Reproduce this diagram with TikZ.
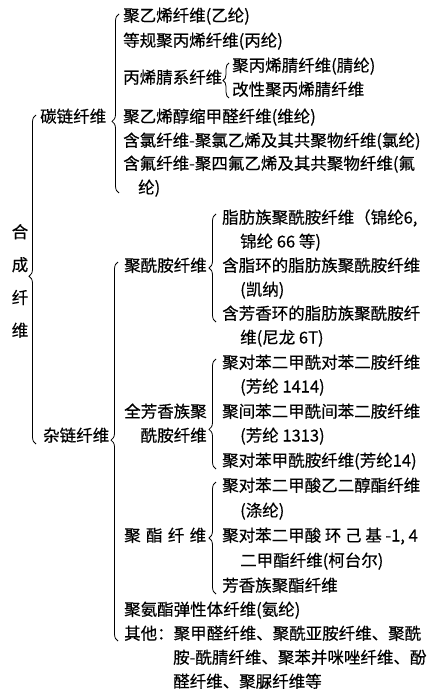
\documentclass[tikz,border=0pt]{standalone}
\usepackage{fontspec}
\setmainfont[FakeBold=0.4]{Noto Sans CJK SC}
\usetikzlibrary{decorations.pathreplacing}

\begin{document}
\begin{tikzpicture}[
  x=1pt, y=1pt,
  font=\fontsize{16.5}{19.8}\selectfont,
  txt/.style={inner sep=0pt, anchor=west, text height=0.85em, text depth=0.15em},
  brace/.style={decorate, decoration={brace, amplitude=7pt}, line width=0.8pt}
]
\useasboundingbox (0,0) rectangle (434,-700);

% Root and first level
\node[align=center, inner sep=0pt] (synth) at (20,-281) {合\\[13pt]成\\[13pt]纤\\[13pt]维};
\node[txt] (carbon) at (40,-119) {碳链纤维};
\node[txt] (hetero) at (43,-438) {杂链纤维};

% Carbon-chain fibres
\node[txt] (pe) at (123,-18) {聚乙烯纤维(乙纶)};
\node[txt] (ipp) at (123,-43) {等规聚丙烯纤维(丙纶)};
\node[txt] (acr) at (123,-80) {丙烯腈系纤维};
\node[txt] (pan) at (232,-68) {聚丙烯腈纤维(腈纶)};
\node[txt] (mpan) at (232,-92) {改性聚丙烯腈纤维};
\node[txt] (pva) at (123,-119) {聚乙烯醇缩甲醛纤维(维纶)};
\node[txt] (pvc) at (123,-143) {含氯纤维-聚氯乙烯及其共聚物纤维(氯纶)};
\node[txt] (ptfe) at (123,-166) {含氟纤维-聚四氟乙烯及其共聚物纤维(氟};
\node[txt] (ptfeb) at (138,-190) {纶)};

% Hetero-chain fibres: polyamide
\node[txt] (pa) at (124,-268) {聚酰胺纤维};
\node[txt] (pa1) at (222,-220) {脂肪族聚酰胺纤维（锦纶6,};
\node[txt] (pa1b) at (240,-244) {锦纶 66 等)};
\node[txt] (pa2) at (222,-268) {含脂环的脂肪族聚酰胺纤维};
\node[txt] (pa2b) at (240,-292) {(凯纳)};
\node[txt] (pa3) at (222,-316) {含芳香环的脂肪族聚酰胺纤};
\node[txt] (pa3b) at (240,-340) {维(尼龙 6T)};

% Hetero-chain fibres: aromatic polyamide
\node[txt] (arom) at (124,-414) {全芳香族聚};
\node[txt, anchor=east] (aromb) at ([yshift=-24pt]arom.east) {酰胺纤维};
\node[txt] (ar1) at (222,-365) {聚对苯二甲酰对苯二胺纤维};
\node[txt] (ar1b) at (240,-389) {(芳纶 1414)};
\node[txt] (ar2) at (222,-414) {聚间苯二甲酰间苯二胺纤维};
\node[txt] (ar2b) at (240,-438) {(芳纶 1313)};
\node[txt] (ar3) at (222,-463) {聚对苯甲酰胺纤维(芳纶14)};

% Hetero-chain fibres: polyester
\node[txt] (pes) at (124,-538) {\makebox[82pt][s]{聚\hfill 酯\hfill 纤\hfill 维}};
\node[txt] (pes1) at (222,-488) {聚对苯二甲酸乙二醇酯纤维};
\node[txt] (pes1b) at (240,-513) {(涤纶)};
\node[txt] (pes2) at (222,-538) {聚对苯二甲酸 环 己 基 -1, 4};
\node[txt] (pes2b) at (240,-563) {二甲酯纤维(柯台尔)};
\node[txt] (pes3) at (222,-588) {芳香族聚酯纤维};

% Hetero-chain fibres: others
\node[txt] (pu) at (124,-612) {聚氨酯弹性体纤维(氨纶)};
\node[txt] (oth) at (124,-636) {其他：聚甲醛纤维、聚酰亚胺纤维、聚酰};
\node[txt] (othb) at (173,-660) {胺-酰腈纤维、聚苯并咪唑纤维、酚};
\node[txt] (othc) at (173,-684) {醛纤维、聚脲纤维等};

% Braces
\draw[brace, decoration={aspect=0.51}] ([shift={(-7pt,-6pt)}]hetero.west) -- ([shift={(-4pt,4pt)}]carbon.west);
\draw[brace, decoration={aspect=0.40}] ([shift={(-19pt,-3pt)}]ptfeb.west) -- ([shift={(-4pt,4pt)}]pe.west);
\draw[brace, decoration={amplitude=6pt, aspect=0.5}] ([shift={(-3pt,-6pt)}]mpan.west) -- ([shift={(-3pt,5pt)}]pan.west);
\draw[brace, decoration={aspect=0.53}] ([shift={(-6pt,-5pt)}]oth.west) -- ([shift={(-6pt,6pt)}]pa.west);
\draw[brace, decoration={aspect=0.5}] ([shift={(-6pt,-6pt)}]pa3.west) -- ([shift={(-6pt,6pt)}]pa1.west);
\draw[brace, decoration={aspect=0.36}] ([shift={(-6pt,-6pt)}]ar3.west) -- ([shift={(-6pt,6pt)}]ar1.west);
\draw[brace, decoration={aspect=0.5}] ([shift={(-6pt,-6pt)}]pes3.west) -- ([shift={(-6pt,6pt)}]pes1.west);

\end{tikzpicture}
\end{document}
